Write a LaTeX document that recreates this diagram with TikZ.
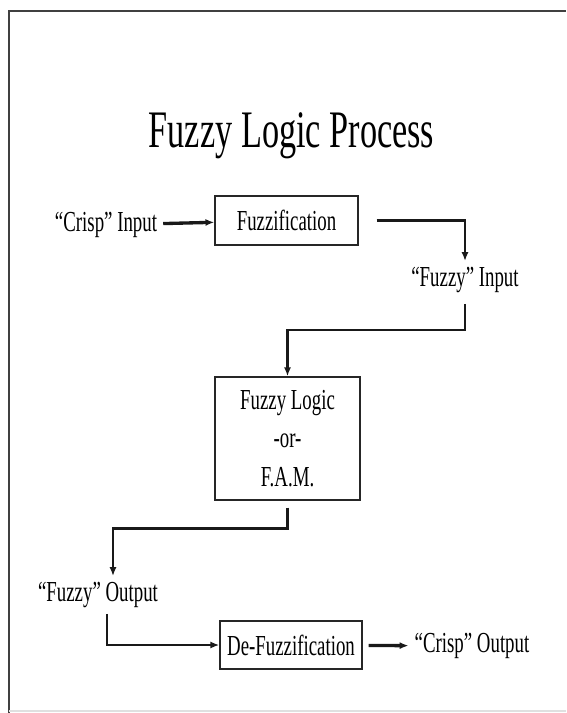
\documentclass[tikz,border=0pt]{standalone}
\usepackage{fontspec}
\setmainfont{Liberation Serif}[FakeStretch=0.65]
\usetikzlibrary{positioning, arrows.meta, calc}

\begin{document}
\begin{tikzpicture}[x=0.02cm, y=-0.02cm,
		block/.style={rectangle, draw=black!85, line width=0.85pt, font=\fontsize{16.5}{21}\selectfont, align=center},
		io/.style={font=\fontsize{16.5}{21}\selectfont},
		link/.style={draw=black!90, line width=1.5pt, -{Latex[length=5pt,width=4pt]}}]
	\useasboundingbox (0,0) rectangle (566,713);

	% cornice
	\draw[black!75, line width=1.2pt] (9,713) -- (9,11) -- (566,11);
	\draw[black!12, line width=0.6pt] (9,711) -- (566,711);

	% titolo
	\node[font=\fontsize{30}{36}\selectfont] (title) at (291.5,136) {Fuzzy Logic Process};

	% blocchi
	\node[block, minimum width=2.86cm, minimum height=0.98cm] (fuzzifier) at (286.5,220.5) {Fuzzification};
	\node[block, minimum width=2.9cm, minimum height=2.46cm] (logic) at (287.5,438.5) {Fuzzy Logic\\[1pt] -or-\\[1pt] F.A.M.};
	\node[block, minimum width=2.84cm, minimum height=0.96cm] (defuzzifier) at (291,645) {De-Fuzzification};

	% ingressi e uscite
	\node[io] (crispIn) at (106,225) {“Crisp” Input};
	\node[io] (fuzzyIn) at (465,280) {“Fuzzy” Input};
	\node[io] (fuzzyOut) at (98,595) {“Fuzzy” Output};
	\node[io] (crispOut) at (472,646) {“Crisp” Output};

	% collegamenti
	\draw[link, line width=1.9pt] (crispIn) -- (fuzzifier);
	\draw[link, shorten <=0.36cm] (fuzzifier.east) -| (fuzzyIn.north);
	\draw[link, shorten <=0.1cm] (fuzzyIn.south) -- ++(0,31) -| (logic.north);
	\draw[link, shorten <=0.14cm] (logic.south) -- ++(0,28) -| ($(fuzzyOut.north)+(15,0)$);
	\draw[link] ($(fuzzyOut.south)+(9,0)$) |- (defuzzifier.west);
	\draw[link, line width=1.9pt, shorten <=0.12cm] (defuzzifier) -- (crispOut);
\end{tikzpicture}
\end{document}
